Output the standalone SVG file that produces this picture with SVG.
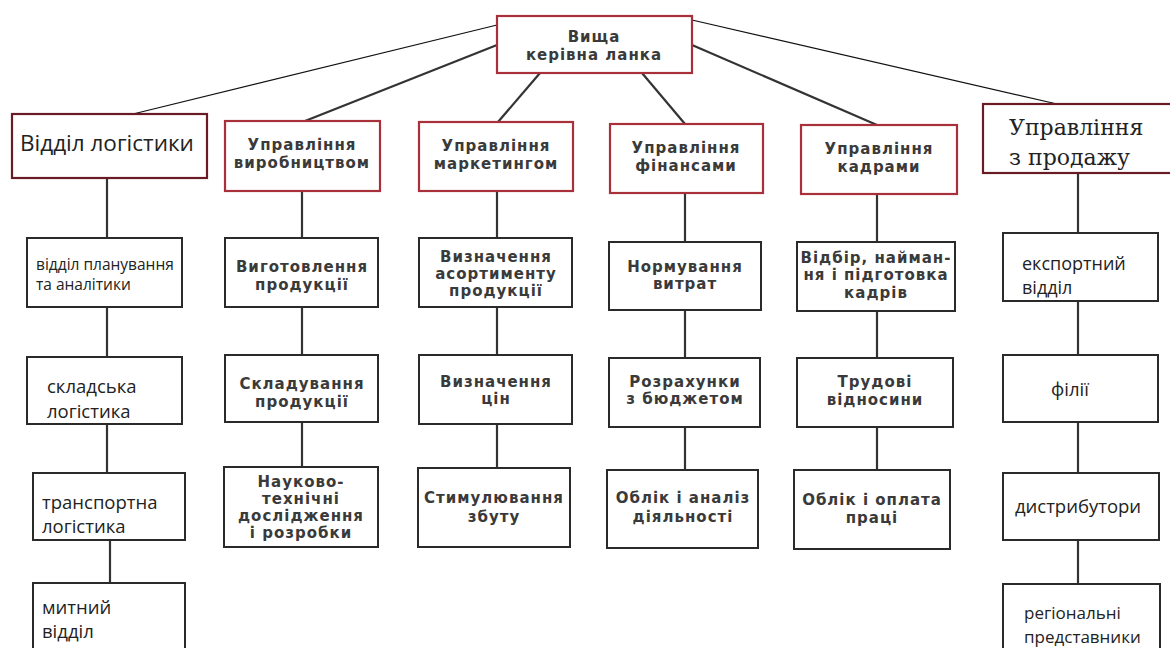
<svg xmlns="http://www.w3.org/2000/svg" width="1170" height="648" viewBox="0 0 1170 648">
<style>
.bx{fill:#fff;stroke:#2a2a2a;stroke-width:2}
.rb{fill:#fff;stroke:#a8303a;stroke-width:2.2}
.db{fill:#fff;stroke:#6a1c26;stroke-width:2.2}
.pt{font-family:"DejaVu Sans",sans-serif;font-weight:700;font-size:15px;fill:#3a3a3a;text-anchor:middle;letter-spacing:1px}
.ot{font-family:"Open Sans","DejaVu Sans",sans-serif;font-size:18.5px;fill:#222}
.sr{font-family:"DejaVu Serif","Liberation Serif",serif;font-size:22px;fill:#222}
.thick{stroke:#333;stroke-width:2.2;fill:none}
.thin{stroke:#111;stroke-width:1.2;fill:none}
</style>
<rect width="1170" height="648" fill="#fff"/>
<g id="connectors">
<line class="thin" x1="497" y1="25" x2="133" y2="114"/>
<line class="thin" x1="692" y1="20" x2="1057" y2="104"/>
<line class="thick" x1="497" y1="45" x2="305" y2="121"/>
<line class="thick" x1="540" y1="73" x2="498" y2="122"/>
<line class="thick" x1="642" y1="73" x2="685" y2="124"/>
<line class="thick" x1="692" y1="45" x2="877" y2="125"/>
<path class="thick" d="M107 178V238M107 307V357M107 424V473M110 540V583"/>
<path class="thick" d="M302 191V238M302 307V355M302 422V467"/>
<path class="thick" d="M497 191V238M497 307V355M497 424V468"/>
<path class="thick" d="M685 193V242M685 310V358M685 427V470"/>
<path class="thick" d="M877 194V242M877 311V358M877 427V470"/>
<path class="thick" d="M1078 173V233M1078 301V355M1078 422V473M1078 540V584"/>
</g>
<g id="top"><rect class="rb" x="497" y="16" width="195" height="57"/>
<text class="pt" x="594" y="42">Вища</text><text class="pt" x="594" y="60">керівна  ланка</text></g>
<g id="logistics"><rect class="db" x="12" y="114" width="195" height="64"/>
<text class="ot" x="20" y="151" style="font-size:22.5px">Відділ логістики</text></g>
<g id="production"><rect class="rb" x="225" y="121" width="155" height="70"/>
<text class="pt" x="302" y="150">Управління</text><text class="pt" x="302" y="168">виробництвом</text></g>
<g id="marketing"><rect class="rb" x="419" y="122" width="154" height="69"/>
<text class="pt" x="496" y="151">Управління</text><text class="pt" x="496" y="169">маркетингом</text></g>
<g id="finance"><rect class="rb" x="610" y="124" width="153" height="69"/>
<text class="pt" x="686" y="153">Управління</text><text class="pt" x="686" y="171">фінансами</text></g>
<g id="hr"><rect class="rb" x="801" y="125" width="156" height="69"/>
<text class="pt" x="879" y="154">Управління</text><text class="pt" x="879" y="172">кадрами</text></g>
<g id="sales"><rect class="db" x="983" y="104" width="195" height="69"/>
<text class="sr" x="1009" y="135">Управління</text><text class="sr" x="1009" y="165">з продажу</text></g>

<g id="l1"><rect class="bx" x="27" y="238" width="155" height="69"/>
<text class="ot" x="36" y="270" style="font-size:15.5px">відділ планування</text><text class="ot" x="36" y="290" style="font-size:15.5px">та аналітики</text></g>
<g id="l2"><rect class="bx" x="27" y="357" width="155" height="67"/>
<text class="ot" x="47" y="393">складська</text><text class="ot" x="47" y="418">логістика</text></g>
<g id="l3"><rect class="bx" x="33" y="473" width="152" height="67"/>
<text class="ot" x="42" y="509">транспортна</text><text class="ot" x="42" y="533">логістика</text></g>
<g id="l4"><rect class="bx" x="33" y="583" width="152" height="80"/>
<text class="ot" x="42" y="614">митний</text><text class="ot" x="42" y="638">відділ</text></g>

<g id="p1"><rect class="bx" x="225" y="238" width="153" height="69"/>
<text class="pt" x="302" y="272">Виготовлення</text><text class="pt" x="302" y="290">продукції</text></g>
<g id="p2"><rect class="bx" x="225" y="355" width="153" height="67"/>
<text class="pt" x="302" y="389">Складування</text><text class="pt" x="302" y="407">продукції</text></g>
<g id="p3"><rect class="bx" x="224" y="467" width="154" height="80"/>
<text class="pt" x="301" y="487">Науково-</text><text class="pt" x="301" y="504">технічні</text><text class="pt" x="301" y="521">дослідження</text><text class="pt" x="301" y="538">і розробки</text></g>

<g id="m1"><rect class="bx" x="419" y="238" width="153" height="69"/>
<text class="pt" x="496" y="262">Визначення</text><text class="pt" x="496" y="279">асортименту</text><text class="pt" x="496" y="296">продукції</text></g>
<g id="m2"><rect class="bx" x="419" y="355" width="153" height="69"/>
<text class="pt" x="496" y="387">Визначення</text><text class="pt" x="496" y="404">цін</text></g>
<g id="m3"><rect class="bx" x="418" y="468" width="152" height="79"/>
<text class="pt" x="494" y="503">Стимулювання</text><text class="pt" x="494" y="522">збуту</text></g>

<g id="f1"><rect class="bx" x="609" y="242" width="152" height="68"/>
<text class="pt" x="685" y="272">Нормування</text><text class="pt" x="685" y="289">витрат</text></g>
<g id="f2"><rect class="bx" x="609" y="358" width="151" height="69"/>
<text class="pt" x="685" y="387">Розрахунки</text><text class="pt" x="685" y="404">з бюджетом</text></g>
<g id="f3"><rect class="bx" x="607" y="470" width="151" height="78"/>
<text class="pt" x="683" y="503">Облік і аналіз</text><text class="pt" x="683" y="522">діяльності</text></g>

<g id="h1"><rect class="bx" x="797" y="242" width="158" height="69"/>
<text class="pt" x="876" y="263">Відбір, найман-</text><text class="pt" x="876" y="280">ня і підготовка</text><text class="pt" x="876" y="298">кадрів</text></g>
<g id="h2"><rect class="bx" x="797" y="358" width="156" height="69"/>
<text class="pt" x="875" y="387">Трудові</text><text class="pt" x="875" y="405">відносини</text></g>
<g id="h3"><rect class="bx" x="794" y="470" width="156" height="79"/>
<text class="pt" x="872" y="505">Облік і оплата</text><text class="pt" x="872" y="523">праці</text></g>

<g id="s1"><rect class="bx" x="1003" y="233" width="155" height="68"/>
<text class="ot" x="1022" y="270" style="font-size:18px">експортний</text><text class="ot" x="1022" y="294" style="font-size:18px">відділ</text></g>
<g id="s2"><rect class="bx" x="1003" y="355" width="155" height="67"/>
<text class="ot" x="1070" y="396" text-anchor="middle">філії</text></g>
<g id="s3"><rect class="bx" x="1003" y="473" width="156" height="67"/>
<text class="ot" x="1078" y="513" text-anchor="middle">дистрибутори</text></g>
<g id="s4"><rect class="bx" x="1003" y="584" width="157" height="80"/>
<text class="ot" x="1024" y="619" style="font-size:17px">регіональні</text><text class="ot" x="1024" y="643" style="font-size:17px">представники</text></g>
</svg>
